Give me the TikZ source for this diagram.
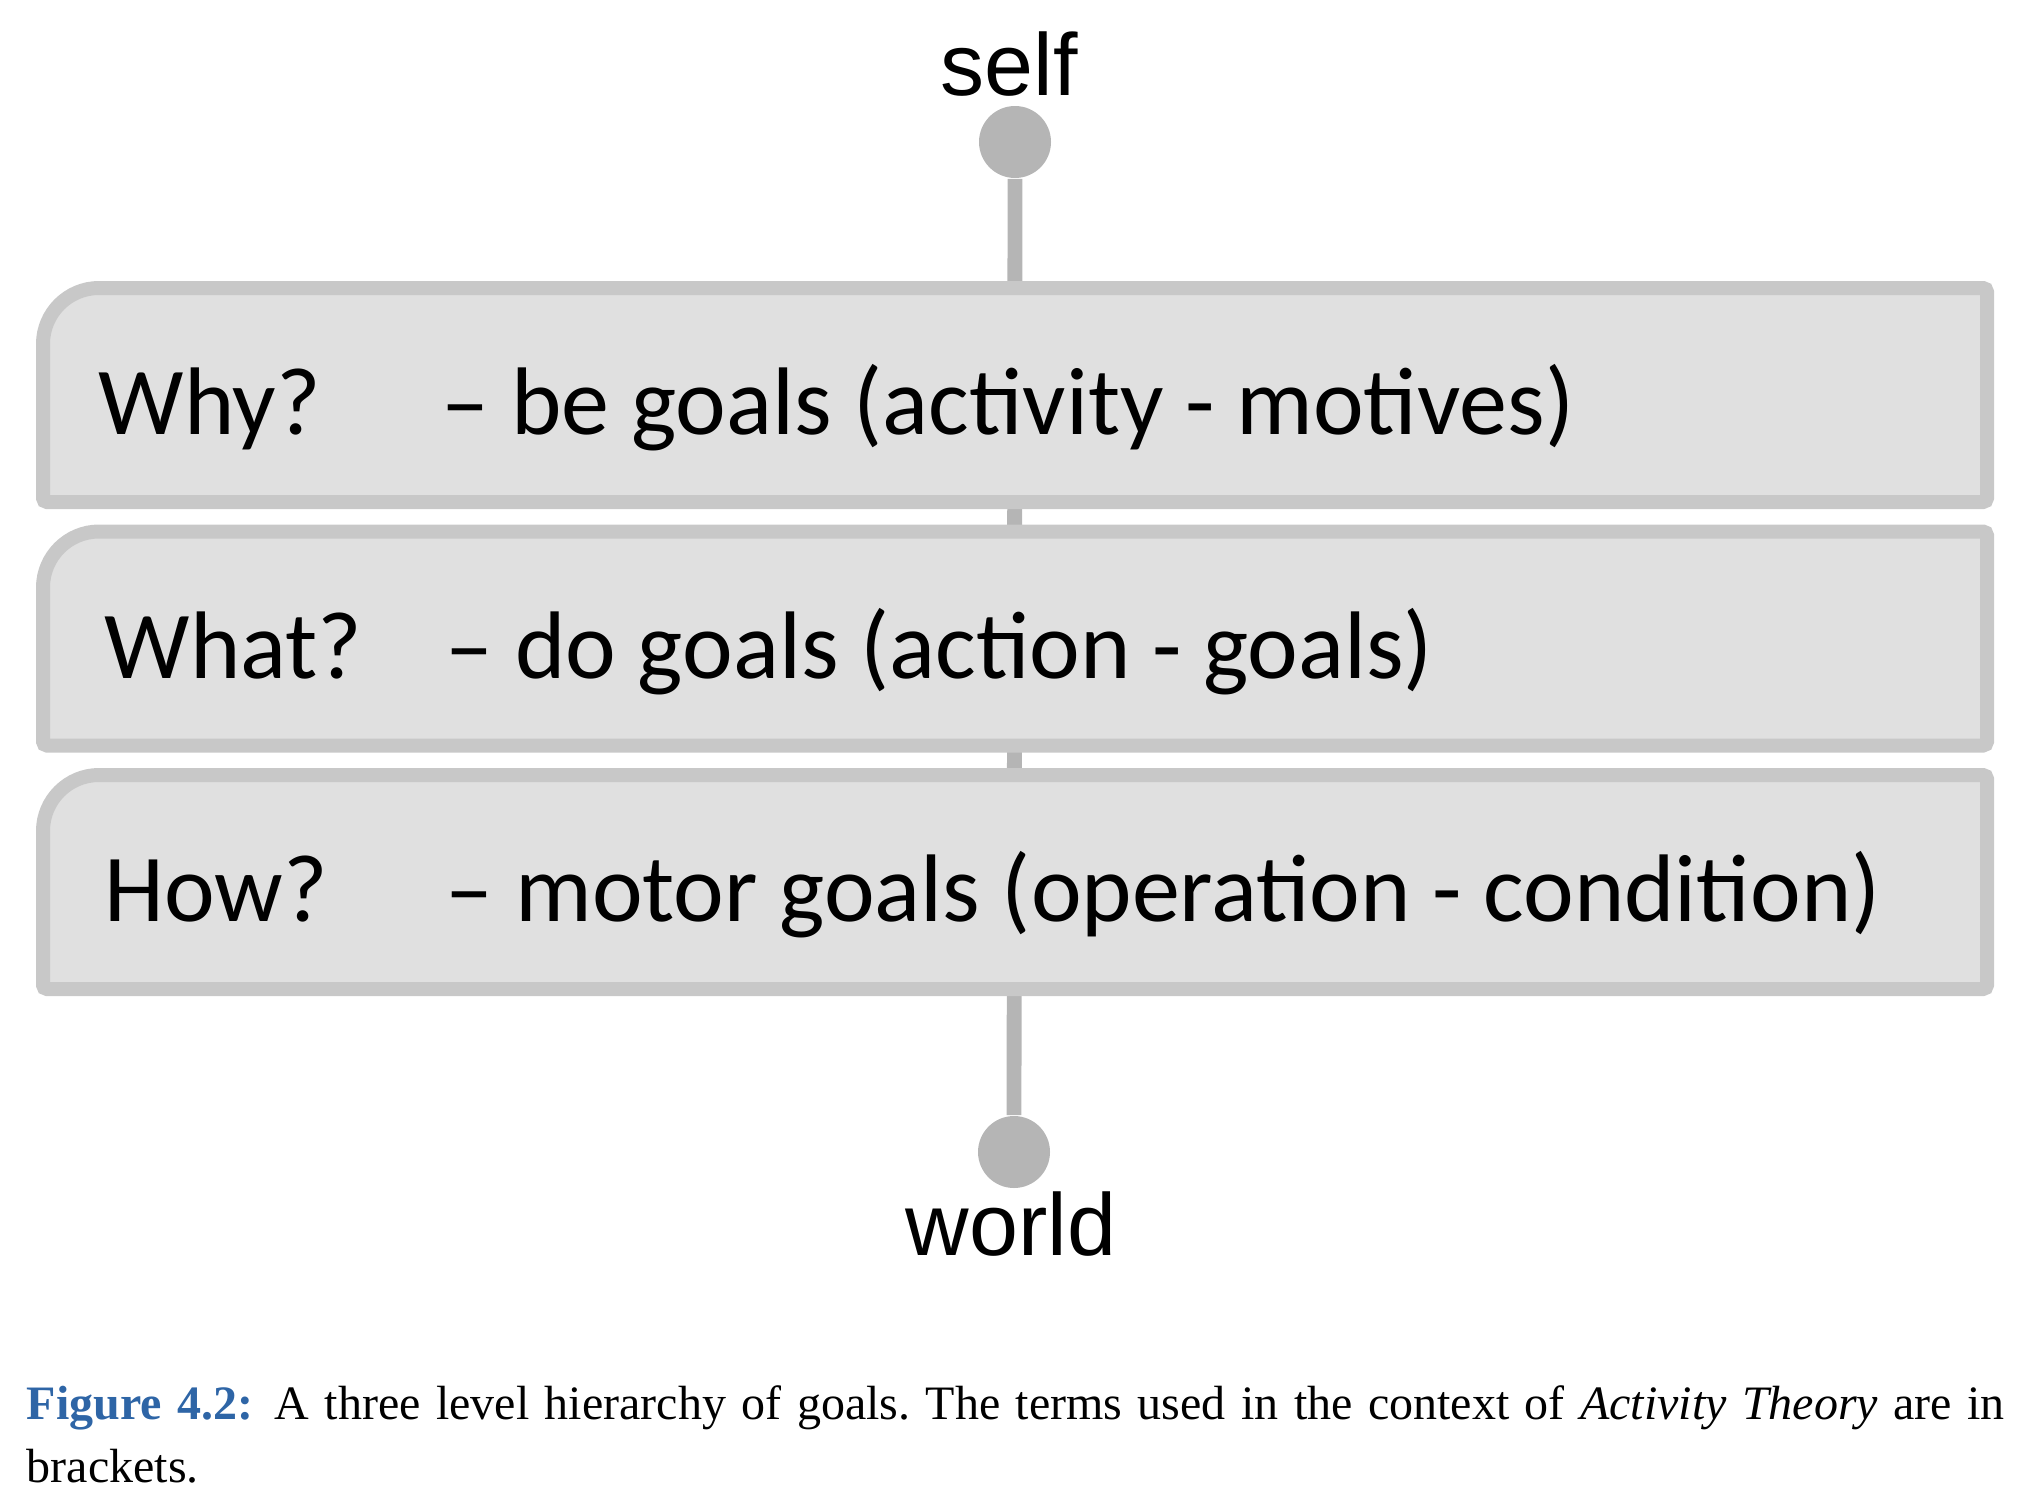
\documentclass[tikz,border=0pt]{standalone}
\usepackage{fontspec}
\setmainfont{Liberation Serif}
\newfontfamily\boxfont{Carlito}
\newfontfamily\labelfont{Liberation Sans}
\usetikzlibrary{positioning}
\frenchspacing

\definecolor{stemgray}{RGB}{181,181,181}
\definecolor{edgegray}{RGB}{200,200,200}
\definecolor{fillgray}{RGB}{224,224,224}
\definecolor{figblue}{RGB}{46,101,166}

\begin{document}
\begin{tikzpicture}[
    x=0.25pt,
    y=-0.25pt,
    dot/.style={circle, fill=stemgray, minimum size=18pt, inner sep=0pt},
    endlabel/.style={font=\labelfont\fontsize{22}{26}\selectfont, anchor=base, inner sep=0pt},
    level/.style={minimum width=486pt, minimum height=53.5pt, inner sep=0pt, outer sep=0pt},
    levelframe/.style={draw=edgegray, fill=fillgray, line width=3.5pt},
    question/.style={font=\boxfont\fontsize{24}{28}\selectfont, anchor=base west, inner sep=0pt}
]
    \useasboundingbox (0,0) rectangle (2044,1510);
    % the two ends
    \node[dot] (selfdot) at (1015,142) {};
    \node[dot] (worlddot) at (1014,1152) {};
    \node[endlabel] (self) at (1009,95) {self};
    \node[endlabel] (world) at (1011,1255) {world};
    \draw[stemgray, line width=3.7pt] (selfdot) -- (worlddot);
    % the three levels
    \foreach \name/\y in {why/395, what/638.5, how/882} {
        \node[level] (\name) at (1015,\y) {};
        \draw[levelframe] (\name.south) [rounded corners=1pt] -- (\name.south east)
            -- (\name.north east) [rounded corners=14pt] -- (\name.north west)
            [rounded corners=1pt] -- (\name.south west) -- cycle;
    }
    \node[question] (whyq) at (98,434) {Why?};
    \node[question] (whya) at (441,434) {– be goals (activity - motives)};
    \node[question] (whatq) at (104,678) {What?};
    \node[question] (whata) at (445,678) {– do goals (action - goals)};
    \node[question] (howq) at (104,921) {How?};
    \node[question] (howa) at (445,921) {– motor goals (operation - condition)};
    % caption
    \node[anchor=north west, inner sep=0pt, text width=494.5pt, align=justify,
          font=\fontsize{12}{15.75}\selectfont] (caption) at (26,1385)
        {\textcolor{figblue}{\textbf{Figure 4.2:}}\hspace{0.45em}A three level hierarchy of goals. The terms used in the context of \textit{Activity Theory} are in brackets.};
\end{tikzpicture}
\end{document}
